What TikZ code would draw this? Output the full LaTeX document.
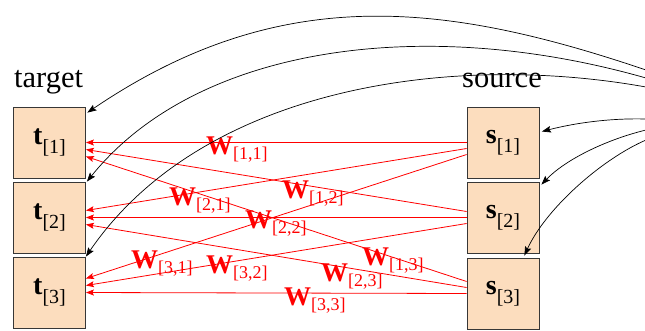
\documentclass[tikz,border=0pt]{standalone}
\usepackage{fontspec}
\setmainfont{Liberation Serif}
\usetikzlibrary{arrows.meta}

\definecolor{peach}{RGB}{252,221,190}
\definecolor{boxline}{RGB}{55,55,55}

% bold symbol with a bracketed index set below the baseline
\newcommand{\wsub}[1]{{\fontsize{27}{27}\selectfont\bfseries W}\raisebox{-5pt}{\fontsize{18}{18}\selectfont[#1]}}
\newcommand{\vecsub}[2]{{\fontsize{28}{28}\selectfont\bfseries #1}\raisebox{-9pt}{\fontsize{20}{20}\selectfont[#2]}}

\begin{document}
\begin{tikzpicture}[x=1pt,y=-1pt,
  cell/.style={draw=boxline, line width=0.8pt, fill=peach,
    minimum width=72pt, minimum height=71pt, inner sep=0pt},
  weight/.style={draw=red, line width=0.8pt,
    -{Stealth[length=8pt,width=6pt,inset=1.5pt]}},
  wlabel/.style={text=red, inner sep=0pt, anchor=base west},
  feed/.style={draw=black, line width=0.7pt,
    -{Stealth[length=9pt,width=6.5pt,inset=1.5pt]}},
  heading/.style={inner sep=0pt, anchor=base west,
    font=\fontsize{30.5}{30.5}\selectfont}]

\useasboundingbox (0,0) rectangle (645,330);
\clip (0,0) rectangle (645,330);

% column headings
\node[heading] (tlab) at (14,87) {target};
\node[heading] (slab) at (462,87) {source};

% target and source cells
\node[cell] (t1) at (49.5,142.5) {\vecsub{t}{1}};
\node[cell] (t2) at (49.5,217.5) {\vecsub{t}{2}};
\node[cell] (t3) at (49.5,292.5) {\vecsub{t}{3}};
\node[cell] (s1) at (503,142.5) {\vecsub{s}{1}};
\node[cell] (s2) at (503,217.5) {\vecsub{s}{2}};
\node[cell] (s3) at (503,293.5) {\vecsub{s}{3}};

% weighted links from every source cell to every target cell
\foreach \i in {1,2,3}{
  \foreach \j in {1,2,3}{
    \pgfmathsetmacro{\ty}{(\i-\j)*7}
    \pgfmathsetmacro{\sy}{(\j-\i)*6}
    \draw[weight] ([yshift=\sy pt]s\j.west) -- ([yshift=\ty pt]t\i.east);
  }
}

% link weights
\node[wlabel] (w11) at (206,154) {\wsub{1,1}};
\node[wlabel] (w12) at (282,198) {\wsub{1,2}};
\node[wlabel] (w13) at (362,265) {\wsub{1,3}};
\node[wlabel] (w21) at (169,205) {\wsub{2,1}};
\node[wlabel] (w22) at (245,228) {\wsub{2,2}};
\node[wlabel] (w23) at (321,281) {\wsub{2,3}};
\node[wlabel] (w31) at (131,268) {\wsub{3,1}};
\node[wlabel] (w32) at (206,273) {\wsub{3,2}};
\node[wlabel] (w33) at (284,305) {\wsub{3,3}};

% feeds entering from the right
\coordinate (f1) at (646,70);
\coordinate (f2) at (646,78);
\coordinate (f3) at (646,87);
\coordinate (f4) at (646,119);
\coordinate (f5) at (646,130);
\coordinate (f6) at (646,140);

\draw[feed] (f1) .. controls (445,2) and (280,-18) .. ([xshift=1.5pt,yshift=-6pt]t1.north east);
\draw[feed] (f2) .. controls (425,15) and (197,45) .. ([xshift=1pt]t2.north east);
\draw[feed] (f3) .. controls (445,51) and (200,90) .. (t3.north east);
\draw[feed] (f4) .. controls (610,118) and (575,123) .. ([xshift=2.5pt,yshift=11pt]s1.east);
\draw[feed] (f5) .. controls (605,140) and (565,160) .. ([xshift=2pt,yshift=-3pt]s2.north east);
\draw[feed] (f6) .. controls (600,160) and (545,210) .. ([xshift=-15pt,yshift=2pt]s3.north east);
\end{tikzpicture}
\end{document}
